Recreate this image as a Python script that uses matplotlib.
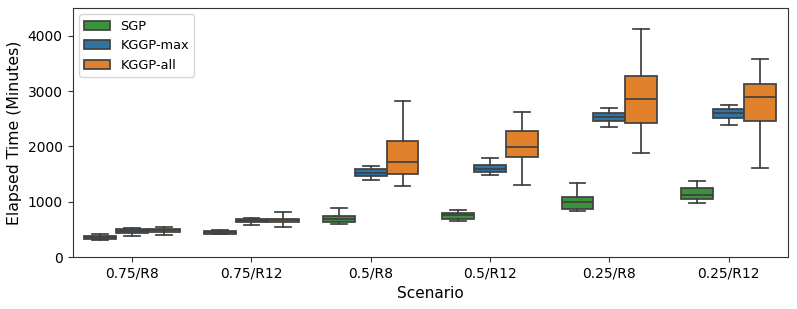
import numpy as np
import matplotlib
matplotlib.use('Agg')
import matplotlib.pyplot as plt
from matplotlib.patches import Patch

# box statistics: low whisker, q1, median, q3, high whisker
scenarios = ['0.75/R8', '0.75/R12', '0.5/R8', '0.5/R12', '0.25/R8', '0.25/R12']
methods = ['SGP', 'KGGP-max', 'KGGP-all']

sgp_stats = [
    [313, 326, 356, 380, 422],
    [411, 422, 447, 471, 483],
    [603, 633, 682, 742, 881],
    [646, 694, 755, 803, 857],
    [827, 862, 989, 1091, 1345],
    [972, 1044, 1122, 1243, 1376],
]
kggp_max_stats = [
    [386, 434, 471, 501, 530],
    [585, 628, 652, 682, 700],
    [1394, 1466, 1527, 1587, 1653],
    [1478, 1538, 1599, 1671, 1798],
    [2353, 2456, 2540, 2612, 2702],
    [2383, 2522, 2601, 2673, 2745],
]
kggp_all_stats = [
    [398, 447, 483, 507, 548],
    [548, 628, 664, 693, 809],
    [1285, 1497, 1714, 2094, 2818],
    [1309, 1816, 1997, 2281, 2619],
    [1877, 2420, 2854, 3276, 4127],
    [1616, 2456, 2896, 3119, 3571],
]

colors = ['#3a923a', '#3274a1', '#e1812c']
line_col = '#404040'

fig = plt.figure(figsize=(7.97, 3.09), dpi=100)
ax = fig.add_axes([0.091, 0.168, 0.898, 0.806])

w = 0.8 / 3
for j, stats in enumerate([sgp_stats, kggp_max_stats, kggp_all_stats]):
    bxp = []
    for s in stats:
        bxp.append(dict(whislo=s[0], q1=s[1], med=s[2], q3=s[3], whishi=s[4], fliers=[]))
    pos = np.arange(len(scenarios)) - 0.4 + w * (j + 0.5)
    ax.bxp(bxp, positions=pos, widths=w, patch_artist=True, showfliers=False,
           capwidths=w * 0.5,
           boxprops=dict(facecolor=colors[j], edgecolor=line_col, linewidth=1.25),
           medianprops=dict(color=line_col, linewidth=1.25),
           whiskerprops=dict(color=line_col, linewidth=1.25),
           capprops=dict(color=line_col, linewidth=1.25),
           manage_ticks=False)

ax.set_xlim(-0.5, len(scenarios) - 0.5)
ax.set_ylim(0, 4500)
ax.set_xticks(np.arange(len(scenarios)))
ax.set_xticklabels(scenarios)
ax.set_yticks([0, 1000, 2000, 3000, 4000])
ax.tick_params(labelsize=10, color='#333333')
for sp in ax.spines.values():
    sp.set_color('#333333')
ax.set_xlabel('Scenario', fontsize=11)
ax.set_ylabel('Elapsed Time (Minutes)', fontsize=11.3)

handles = [Patch(facecolor=c, edgecolor=line_col, linewidth=1.25, label=m)
           for c, m in zip(colors, methods)]
ax.legend(handles=handles, loc='upper left', fontsize=9.3)

fig.savefig('out.png', dpi=100)
